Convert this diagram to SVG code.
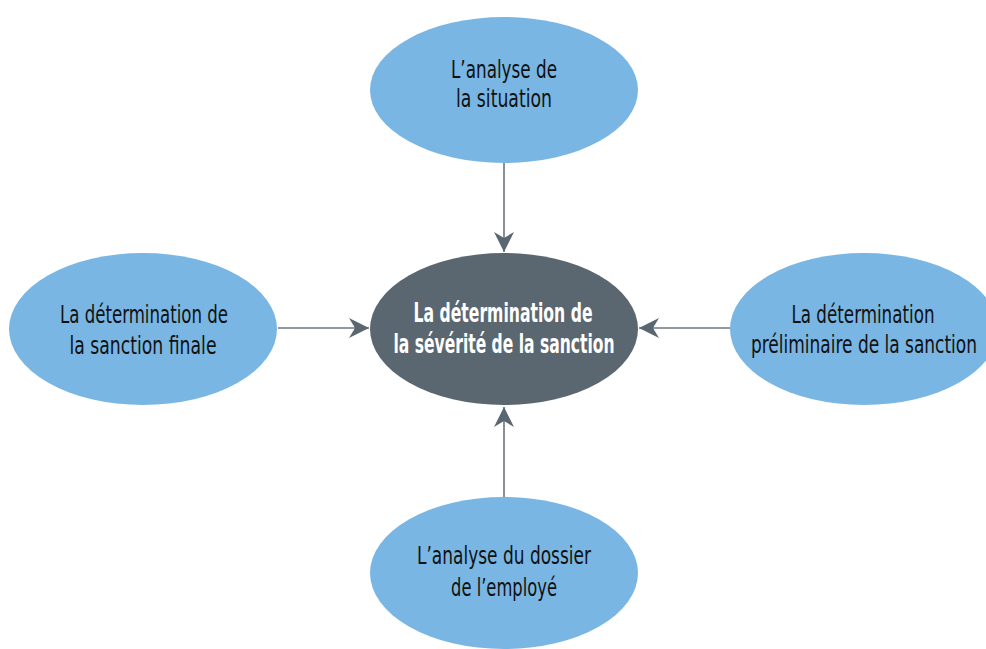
<svg xmlns="http://www.w3.org/2000/svg" width="986" height="649" viewBox="0 0 986 649">
<style>
.n{fill:#79b6e3}
.c{fill:#5b6770}
.t{font-family:"DejaVu Sans Condensed","Roboto","Liberation Sans",sans-serif;font-size:25px;fill:#111;text-anchor:middle}
.tc{font-family:"DejaVu Sans Condensed","Roboto","Liberation Sans",sans-serif;font-size:26px;font-weight:bold;fill:#fff;text-anchor:middle}
.l{stroke:#6b757c;stroke-width:1.6;fill:none}
</style>
<defs>
<marker id="a" viewBox="0 0 20 20" refX="20" refY="10" markerWidth="20" markerHeight="20" markerUnits="userSpaceOnUse" orient="auto">
<path d="M0,0 L20,10 L0,20 L6,10 Z" fill="#5b6770"/>
</marker>
</defs>
<rect width="986" height="649" fill="#fff"/>
<g id="connectors">
<line class="l" x1="504" y1="162" x2="504" y2="252" marker-end="url(#a)"/>
<line class="l" x1="278" y1="328" x2="369" y2="328" marker-end="url(#a)"/>
<line class="l" x1="730" y1="328" x2="639" y2="328" marker-end="url(#a)"/>
<line class="l" x1="504" y1="497" x2="504" y2="407" marker-end="url(#a)"/>
</g>
<g id="top">
<ellipse class="n" cx="504" cy="90" rx="134" ry="73"/>
<text class="t" x="504" y="78" textLength="106" lengthAdjust="spacingAndGlyphs">L’analyse de</text>
<text class="t" x="504" y="107" textLength="96" lengthAdjust="spacingAndGlyphs">la situation</text>
</g>
<g id="center">
<ellipse class="c" cx="504" cy="329" rx="134" ry="76"/>
<text class="tc" x="503" y="322" textLength="179" lengthAdjust="spacingAndGlyphs">La détermination de</text>
<text class="tc" x="504" y="353" textLength="221" lengthAdjust="spacingAndGlyphs">la sévérité de la sanction</text>
</g>
<g id="left">
<ellipse class="n" cx="143" cy="329" rx="134" ry="76"/>
<text class="t" x="144" y="323" textLength="168" lengthAdjust="spacingAndGlyphs">La détermination de</text>
<text class="t" x="143" y="354" textLength="147" lengthAdjust="spacingAndGlyphs">la sanction finale</text>
</g>
<g id="right">
<ellipse class="n" cx="864" cy="329" rx="134" ry="76"/>
<text class="t" x="863" y="323" textLength="143" lengthAdjust="spacingAndGlyphs">La détermination</text>
<text class="t" x="864" y="353" textLength="226" lengthAdjust="spacingAndGlyphs">préliminaire de la sanction</text>
</g>
<g id="bottom">
<ellipse class="n" cx="504" cy="573" rx="134" ry="76"/>
<text class="t" x="504" y="564" textLength="174" lengthAdjust="spacingAndGlyphs">L’analyse du dossier</text>
<text class="t" x="504" y="596" textLength="106" lengthAdjust="spacingAndGlyphs">de l’employé</text>
</g>
</svg>
